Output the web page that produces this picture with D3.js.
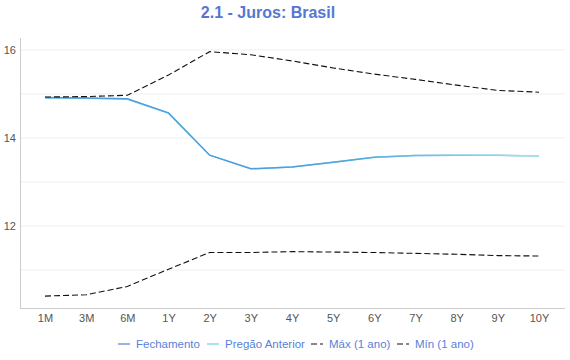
<!DOCTYPE html>
<html><head><meta charset="utf-8">
<script src="https://cdn.jsdelivr.net/npm/d3@7"></script>
<style>body{margin:0;background:#fff;font-family:"Liberation Sans",Arial,sans-serif;}</style>
</head><body><svg id="c" width="570" height="360"></svg>
<script>
const categories = ["1M","3M","6M","1Y","2Y","3Y","4Y","5Y","6Y","7Y","8Y","9Y","10Y"];
const fechamento = [14.92,14.91,14.89,14.57,13.61,13.30,13.34,13.45,13.56,13.60,13.61,13.61,13.59];
const pregaoAnterior = [14.91,14.90,14.88,14.56,13.61,13.30,13.34,13.45,13.56,13.60,13.61,13.61,13.59];
const maxAno = [14.93,14.94,14.97,15.43,15.96,15.89,15.75,15.59,15.45,15.33,15.20,15.08,15.04];
const minAno = [10.41,10.44,10.63,11.02,11.40,11.40,11.42,11.41,11.40,11.38,11.36,11.33,11.32];
const yTicks = [12,14,16];
const yGrid = [11,12,13,14,15,16];

const svg = d3.select("#c");
const L = 20, R = 565, T = 38, B = 308;
const x = d3.scalePoint().domain(categories).range([45, 539]);
const y = d3.scaleLinear().domain([10.14, 16.27]).range([B, T]);

svg.append("text").attr("x", 268).attr("y", 18).attr("text-anchor","middle")
  .attr("font-size", 16).attr("font-weight","bold").attr("fill","#5577d4").text("2.1 - Juros: Brasil");

svg.append("g").selectAll("line").data(yGrid).join("line")
  .attr("x1", L).attr("x2", R).attr("y1", d=>y(d)).attr("y2", d=>y(d))
  .attr("stroke","#efefef").attr("stroke-width",1);

const yAxis = svg.append("g").attr("transform",`translate(${L},0)`)
  .call(d3.axisLeft(y).tickValues(yTicks).tickSize(0).tickPadding(4).tickFormat(d3.format("d")));
yAxis.select(".domain").remove();
yAxis.selectAll("text").attr("font-size",11).attr("fill","#555").attr("font-family","Liberation Sans, Arial, sans-serif");
svg.append("line").attr("x1",L+0.5).attr("x2",L+0.5).attr("y1",T).attr("y2",B).attr("stroke","#ccc");

const xAxis = svg.append("g").attr("transform",`translate(0,${B})`)
  .call(d3.axisBottom(x).tickSize(0).tickPadding(6));
xAxis.select(".domain").remove();
xAxis.selectAll("text").attr("font-size",11).attr("fill","#555").attr("font-family","Liberation Sans, Arial, sans-serif");
svg.append("line").attr("x1",L).attr("x2",R).attr("y1",B+0.5).attr("y2",B+0.5).attr("stroke","#ccc");

const defs = svg.append("defs");
const g1 = defs.append("linearGradient").attr("id","gF").attr("gradientUnits","userSpaceOnUse")
  .attr("x1",45).attr("x2",539).attr("y1",0).attr("y2",0);
g1.append("stop").attr("offset","0").attr("stop-color","#4a9ae0");
g1.append("stop").attr("offset","0.6").attr("stop-color","#4fa2dc");
g1.append("stop").attr("offset","1").attr("stop-color","#a9def0");

const line = d3.line().x((d,i)=>x(categories[i])).y(d=>y(d));
svg.append("path").datum(pregaoAnterior).attr("d",line).attr("fill","none").attr("stroke","#8fd6ea").attr("stroke-width",1.5);
svg.append("path").datum(fechamento).attr("d",line).attr("fill","none").attr("stroke","url(#gF)").attr("stroke-width",1.5);
svg.append("path").datum(maxAno).attr("d",line).attr("fill","none").attr("stroke","#111").attr("stroke-width",1.1).attr("stroke-dasharray","6,3");
svg.append("path").datum(minAno).attr("d",line).attr("fill","none").attr("stroke","#111").attr("stroke-width",1.1).attr("stroke-dasharray","6,3");

const legend = [
  {name:"Fechamento", color:"#5a7fd6", dash:null, x:118},
  {name:"Pregão Anterior", color:"#6fd0e6", dash:null, x:207},
  {name:"Máx (1 ano)", color:"#111", dash:"6,3", x:311},
  {name:"Mín (1 ano)", color:"#111", dash:"6,3", x:397}
];
const lg = svg.append("g");
legend.forEach(d=>{
  lg.append("line").attr("x1",d.x).attr("x2",d.x+12).attr("y1",344).attr("y2",344)
    .attr("stroke",d.color).attr("stroke-width",1.2).attr("stroke-dasharray",d.dash);
  lg.append("text").attr("x",d.x+18).attr("y",348).attr("font-size",11.5).attr("fill","#5a7fd6").text(d.name);
});
</script></body></html>
